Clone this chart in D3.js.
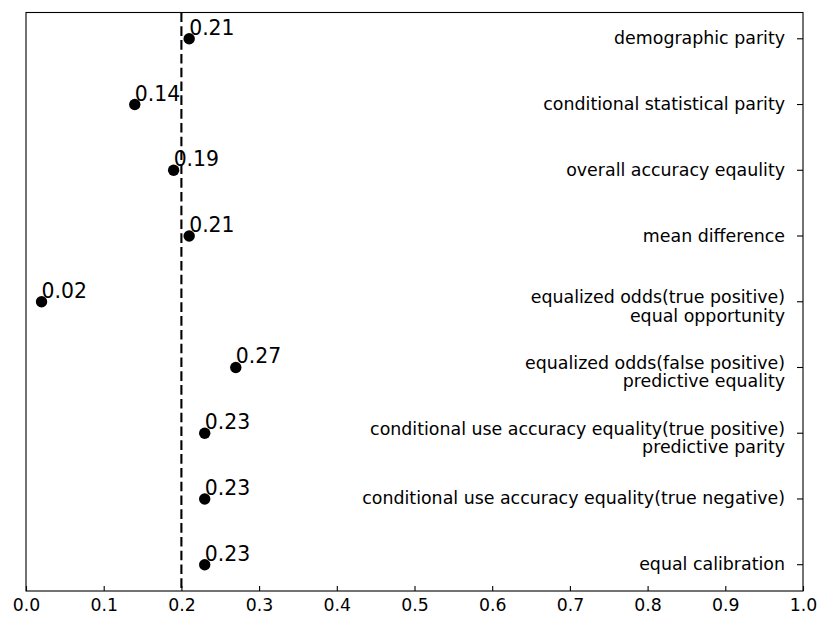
<!DOCTYPE html>
<html><head><meta charset="utf-8">
<script src="https://cdn.jsdelivr.net/npm/d3@7"></script>
<style>body{margin:0;background:#fff;} svg{display:block;}</style>
</head><body>
<script>
const categories = [
  "demographic parity",
  "conditional statistical parity",
  "overall accuracy eqaulity",
  "mean difference",
  "equalized odds(true positive)\nequal opportunity",
  "equalized odds(false positive)\npredictive equality",
  "conditional use accuracy equality(true positive)\npredictive parity",
  "conditional use accuracy equality(true negative)",
  "equal calibration"
];
const values = [0.21, 0.14, 0.19, 0.21, 0.02, 0.27, 0.23, 0.23, 0.23];
const xTicks = [0.0, 0.1, 0.2, 0.3, 0.4, 0.5, 0.6, 0.7, 0.8, 0.9, 1.0];
const threshold = 0.2;

const W = 830, H = 627;
const L = 26, R = 803, T = 12.5, B = 591;
const font = "DejaVu Sans, sans-serif";

const svg = d3.select("body").append("svg").attr("width", W).attr("height", H);

const x = d3.scaleLinear().domain([0, 1]).range([L, R]);
const y = d3.scaleLinear().domain([-0.4, categories.length - 1 + 0.4]).range([T, B]);

// threshold dashed line
svg.append("line")
  .attr("x1", x(threshold)).attr("x2", x(threshold))
  .attr("y1", T).attr("y2", B)
  .attr("stroke", "#000").attr("stroke-width", 2.1)
  .attr("stroke-dasharray", "9.6,4.2");

// bottom axis
const xAxis = d3.axisBottom(x).tickValues(xTicks).tickFormat(d3.format(".1f"))
  .tickSizeInner(-5).tickSizeOuter(0).tickPadding(8);
const gx = svg.append("g").attr("transform", `translate(0,${B})`).call(xAxis);
gx.select(".domain").remove();
gx.selectAll("line").attr("stroke", "#000").attr("stroke-width", 1.1);
gx.selectAll("text").attr("font-family", font).attr("font-size", "17.3px").attr("fill", "#000");

// right ticks inward
svg.append("g").selectAll("line").data(categories).join("line")
  .attr("x1", R - 6).attr("x2", R)
  .attr("y1", (d, i) => y(i)).attr("y2", (d, i) => y(i))
  .attr("stroke", "#000").attr("stroke-width", 1.1);

// category labels
const lab = svg.append("g").selectAll("text").data(categories).join("text")
  .attr("x", R - 18)
  .attr("y", (d, i) => y(i) + (d.includes("\n") ? 1.5 : 5.5))
  .attr("text-anchor", "end")
  .attr("font-family", font).attr("font-size", "17.4px").attr("fill", "#000");
lab.each(function(d) {
  const t = d3.select(this);
  d.split("\n").forEach((line, j) => {
    t.append("tspan").attr("x", R - 18).attr("dy", j === 0 ? 0 : 18.5).text(line);
  });
});

// frame
svg.append("rect").attr("x", L).attr("y", T).attr("width", R - L).attr("height", B - T)
  .attr("fill", "none").attr("stroke", "#000").attr("stroke-width", 1.1);

// points
svg.append("g").selectAll("circle").data(values).join("circle")
  .attr("cx", d => x(d)).attr("cy", (d, i) => y(i)).attr("r", 5.7).attr("fill", "#000");

// value labels
svg.append("g").selectAll("text").data(values).join("text")
  .attr("x", d => x(d)).attr("y", (d, i) => y(i) - 4)
  .attr("font-family", font).attr("font-size", "20.4px").attr("fill", "#000")
  .text(d => d3.format(".2f")(d));
</script>
</body></html>
